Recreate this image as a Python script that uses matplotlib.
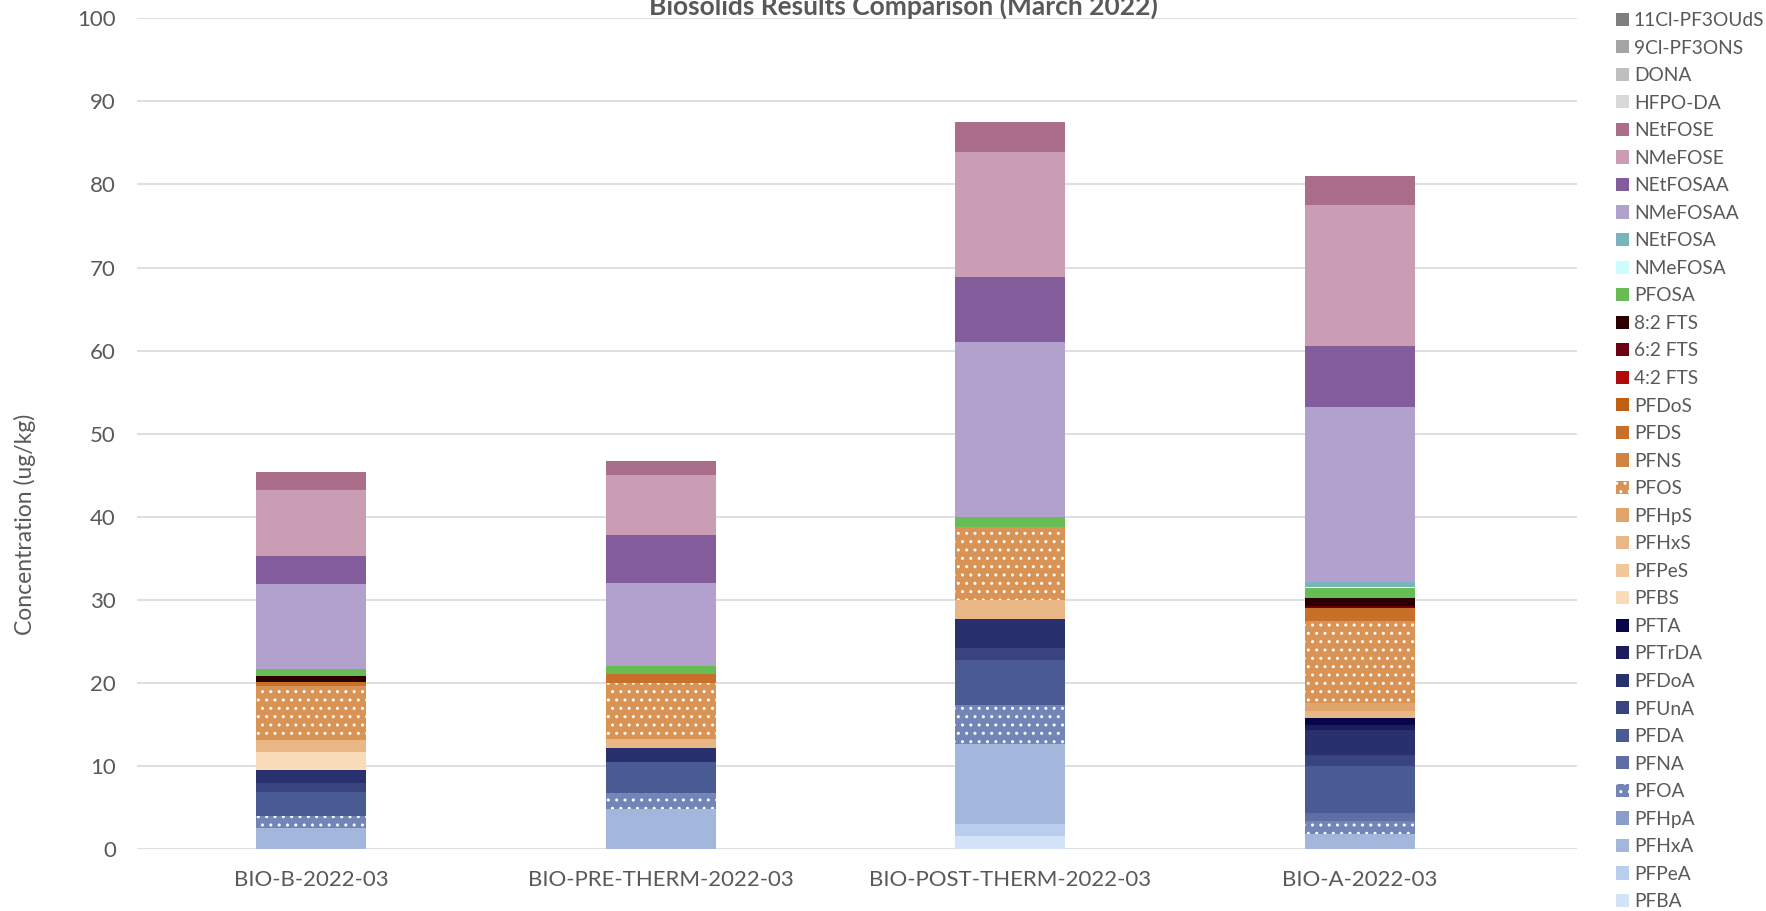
import numpy as np
import matplotlib
matplotlib.use("Agg")
import matplotlib.pyplot as plt

plt.rcParams['font.family'] = ['Lato', 'DejaVu Sans']
plt.rcParams['hatch.linewidth'] = 1.0

samples = ["BIO-B-2022-03", "BIO-PRE-THERM-2022-03", "BIO-POST-THERM-2022-03", "BIO-A-2022-03"]

# compounds in stacking order, bottom to top
compounds = ["PFBA", "PFPeA", "PFHxA", "PFHpA", "PFOA", "PFNA", "PFDA", "PFUnA", "PFDoA",
             "PFTrDA", "PFTA", "PFBS", "PFPeS", "PFHxS", "PFHpS", "PFOS", "PFNS", "PFDS",
             "PFDoS", "4:2 FTS", "6:2 FTS", "8:2 FTS", "PFOSA", "NMeFOSA", "NEtFOSA",
             "NMeFOSAA", "NEtFOSAA", "NMeFOSE", "NEtFOSE", "HFPO-DA", "DONA",
             "9Cl-PF3ONS", "11Cl-PF3OUdS"]

colors = ["#D3E4FA", "#B9CEEE", "#A3B6DC", "#8A9ECA", "#7385B7", "#5F6FA6", "#4A5A92",
          "#38437F", "#28306E", "#1C1C5C", "#07064A", "#FADBBA", "#F2C79C", "#E9B785",
          "#E2A46D", "#D89355", "#CF8441", "#C8702A", "#BE6010", "#B00A0A", "#6C0010",
          "#2A0000", "#67BC53", "#CCFCFB", "#78B4B9", "#B2A1CD", "#835C9B", "#CA9DB5",
          "#AB6E8A", "#D9D9D9", "#BFBFBF", "#A5A5A5", "#7F7F7F"]

dotted = ["PFOA", "PFOS"]

# concentrations (ug/kg), one value per compound above
bio_b = [0, 0, 2.6, 0, 1.37, 0, 2.93, 1.12, 1.49,
         0, 0, 2.21, 0, 1.4, 0, 6.51, 0, 0.52,
         0, 0, 0, 0.68, 0.92, 0, 0,
         10.13, 3.41, 7.95, 2.21, 0, 0, 0, 0]
bio_pre = [0, 0, 4.88, 0, 1.93, 0, 3.73, 0, 1.69,
           0, 0, 0, 0, 1.04, 0, 6.79, 0, 1.08,
           0, 0, 0, 0, 0.96, 0, 0,
           10.0, 5.67, 7.23, 1.73, 0, 0, 0, 0]
bio_post = [1.63, 1.44, 9.64, 0, 4.7, 0, 5.38, 1.45, 3.49,
            0, 0, 0, 0, 2.33, 0, 8.71, 0, 0,
            0, 0, 0, 0, 1.21, 0, 0,
            21.04, 7.88, 15.06, 3.53, 0, 0, 0, 0]
bio_a = [0, 0, 1.83, 0, 1.6, 0.88, 5.74, 1.29, 3.05,
         0.6, 0.81, 0, 0, 0.88, 0.88, 9.96, 0, 1.49,
         0, 0, 0.32, 0.88, 1.2, 0.2, 0.6,
         21.0, 7.31, 17.07, 3.41, 0, 0, 0, 0]

values = np.array([bio_b, bio_pre, bio_post, bio_a]).T

W, H = 1766, 911
fig = plt.figure(figsize=(W / 100, H / 100), dpi=100)
ax = fig.add_axes([136.7 / W, 1 - 849.3 / H, (1577 - 136.7) / W, (849.3 - 18.3) / H])

x = np.arange(len(samples))
bottom = np.zeros(len(samples))
handles = []
for name, col, vals in zip(compounds, colors, values):
    if name in dotted:
        bars = ax.bar(x, vals, 0.315, bottom=bottom, color=col, edgecolor="white",
                      linewidth=0, hatch="..", label=name)
    else:
        bars = ax.bar(x, vals, 0.315, bottom=bottom, color=col, linewidth=0, label=name)
    handles.append(bars)
    bottom += vals

ax.set_xlim(-0.5, 3.622)
ax.set_ylim(0, 100)
ax.set_yticks(np.arange(0, 101, 10))
ax.set_xticks(x)
ax.set_xticklabels(samples)
ax.grid(axis="y", color="#D9D9D9", linewidth=1.2)
ax.set_axisbelow(True)
for s in ax.spines.values():
    s.set_visible(False)
ax.tick_params(axis="both", length=0, labelsize=16, labelcolor="#595959")
ax.tick_params(axis="y", pad=15)
ax.tick_params(axis="x", pad=15)

fig.text(25 / W, 1 - 524 / H, "Concentration (ug/kg)", rotation=90, ha="center",
         va="center", fontsize=16.5, color="#595959")
fig.text(903 / W, 1 - 15 / H, "Biosolids Results Comparison (March 2022)", ha="center",
         va="baseline", fontsize=19, fontweight="bold", color="#595959")

leg = fig.legend(handles[::-1], compounds[::-1], loc="upper left",
                 bbox_to_anchor=(1616 / W, 1 - 12 / H), frameon=False, fontsize=13.8,
                 handlelength=0.68, handleheight=0.68, handletextpad=0.25,
                 labelspacing=0.55, borderaxespad=0, borderpad=0)
for t in leg.get_texts():
    t.set_color("#595959")

fig.savefig("out.png", dpi=100)
